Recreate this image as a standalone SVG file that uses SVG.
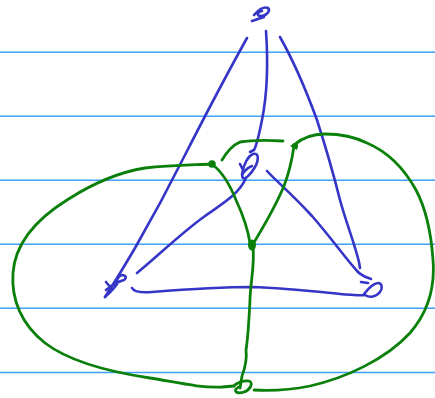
<svg xmlns="http://www.w3.org/2000/svg" width="435" height="398" viewBox="0 0 435 398">
<style>
.rule{stroke:#3fa0ff;stroke-width:1.4}
.b{fill:none;stroke:#3535c8;stroke-width:2.6;stroke-linecap:round;stroke-linejoin:round}
.g{fill:none;stroke:#0a800a;stroke-width:2.8;stroke-linecap:round;stroke-linejoin:round}
.gd{fill:#0a800a}
</style>
<rect width="435" height="398" fill="#fff"/>
<g id="paper">
<line class="rule" x1="0" y1="52.3" x2="435" y2="52.3"/>
<line class="rule" x1="0" y1="116.3" x2="435" y2="116.3"/>
<line class="rule" x1="0" y1="180.3" x2="435" y2="180.3"/>
<line class="rule" x1="0" y1="244.3" x2="435" y2="244.3"/>
<line class="rule" x1="0" y1="308.3" x2="435" y2="308.3"/>
<line class="rule" x1="0" y1="372.5" x2="435" y2="372.5"/>
</g>
<g id="connectors">
<path class="b" d="M247,38 C232,65 208,110 185,155 C170,185 150,222 135,248 C125,265 113,285 105,297"/>
<path class="b" d="M266,31 C268,60 267,95 262,120 C259,135 257,145 254,150 L250,152"/>
<path class="b" d="M246,178 C240,192 228,200 205,216 C180,234 158,256 137,273"/>
<path class="b" d="M280,37 C293,60 306,90 317,120 C326,148 333,172 340,200 C346,222 355,245 359,262 L360,268"/>
<path class="b" d="M267,171 C275,180 290,192 312,216 C333,240 345,258 358,272 C362,276 366,277 371,279"/>
<path class="b" d="M132,288 C134,292 140,293 152,292 C190,289 225,287 252,287 C285,288 320,292 340,294 C352,295 360,296 365,295"/>
<path class="g" d="M212,164 C190,165 170,165 145,168 C120,172 95,182 67,200 C35,220 15,245 13,273 C11,300 22,325 45,343 C70,362 110,372 150,378 C180,383 200,388 222,387 L234,386"/>
<path class="g" d="M254,390 C270,391 290,390 310,386 C345,378 385,360 410,333 C430,310 435,285 433,260 C431,230 425,207 416,190 C405,170 388,152 367,143 C355,137 340,134 325,134 C312,134 303,137 294,145"/>
<path class="g" d="M213,165 C222,172 230,185 236,200 C243,215 248,230 250,243"/>
<path class="g" d="M294,146 C292,160 289,173 284,186 C276,205 264,226 253,244"/>
<path class="g" d="M253,247 C255,265 250,285 250,300 C249,320 248,338 246,350 C247,358 245,368 242,376 L240,388"/>
<path class="g" d="M222,160 C228,150 233,145 240,142 C252,140 268,140 283,141"/>
</g>
<g id="node-top">
<path class="b" d="M254,15 C258,10 264,6 268,8 C271,11 266,16 261,16 C256,16 257,12 262,11 M252,21 L264,17"/>
</g>
<g id="node-center">
<path class="b" d="M242,175 C243,165 248,156 253,154 C259,152 259,160 255,167 C251,174 245,180 243,178 C240,175 246,168 252,166 M240,164 L244,172"/>
</g>
<g id="node-left">
<path class="b" d="M106,290 C112,285 120,281 124,280 C127,278 126,275 122,275 C118,276 116,281 117,284 C113,290 108,294 105,297 M106,282 L111,288"/>
</g>
<g id="node-right">
<path class="b" d="M365,295 C370,298 376,297 380,292 C383,288 382,283 378,283 C373,283 368,289 364,294 M361,282 L368,283"/>
</g>
<g id="node-g1"><circle class="gd" cx="212" cy="164" r="3.8"/></g>
<g id="node-g2"><path class="gd" d="M290,146 L298,141 L297,150 Z"/><circle class="gd" cx="295" cy="146" r="3"/></g>
<g id="node-g3"><ellipse class="gd" cx="252" cy="245" rx="4" ry="5.5"/></g>
<g id="node-g4">
<path class="g" d="M234,386 C236,383 244,380 249,381 C254,383 250,390 244,392 C238,394 234,392 236,389 L240,386"/>
</g>
</svg>
